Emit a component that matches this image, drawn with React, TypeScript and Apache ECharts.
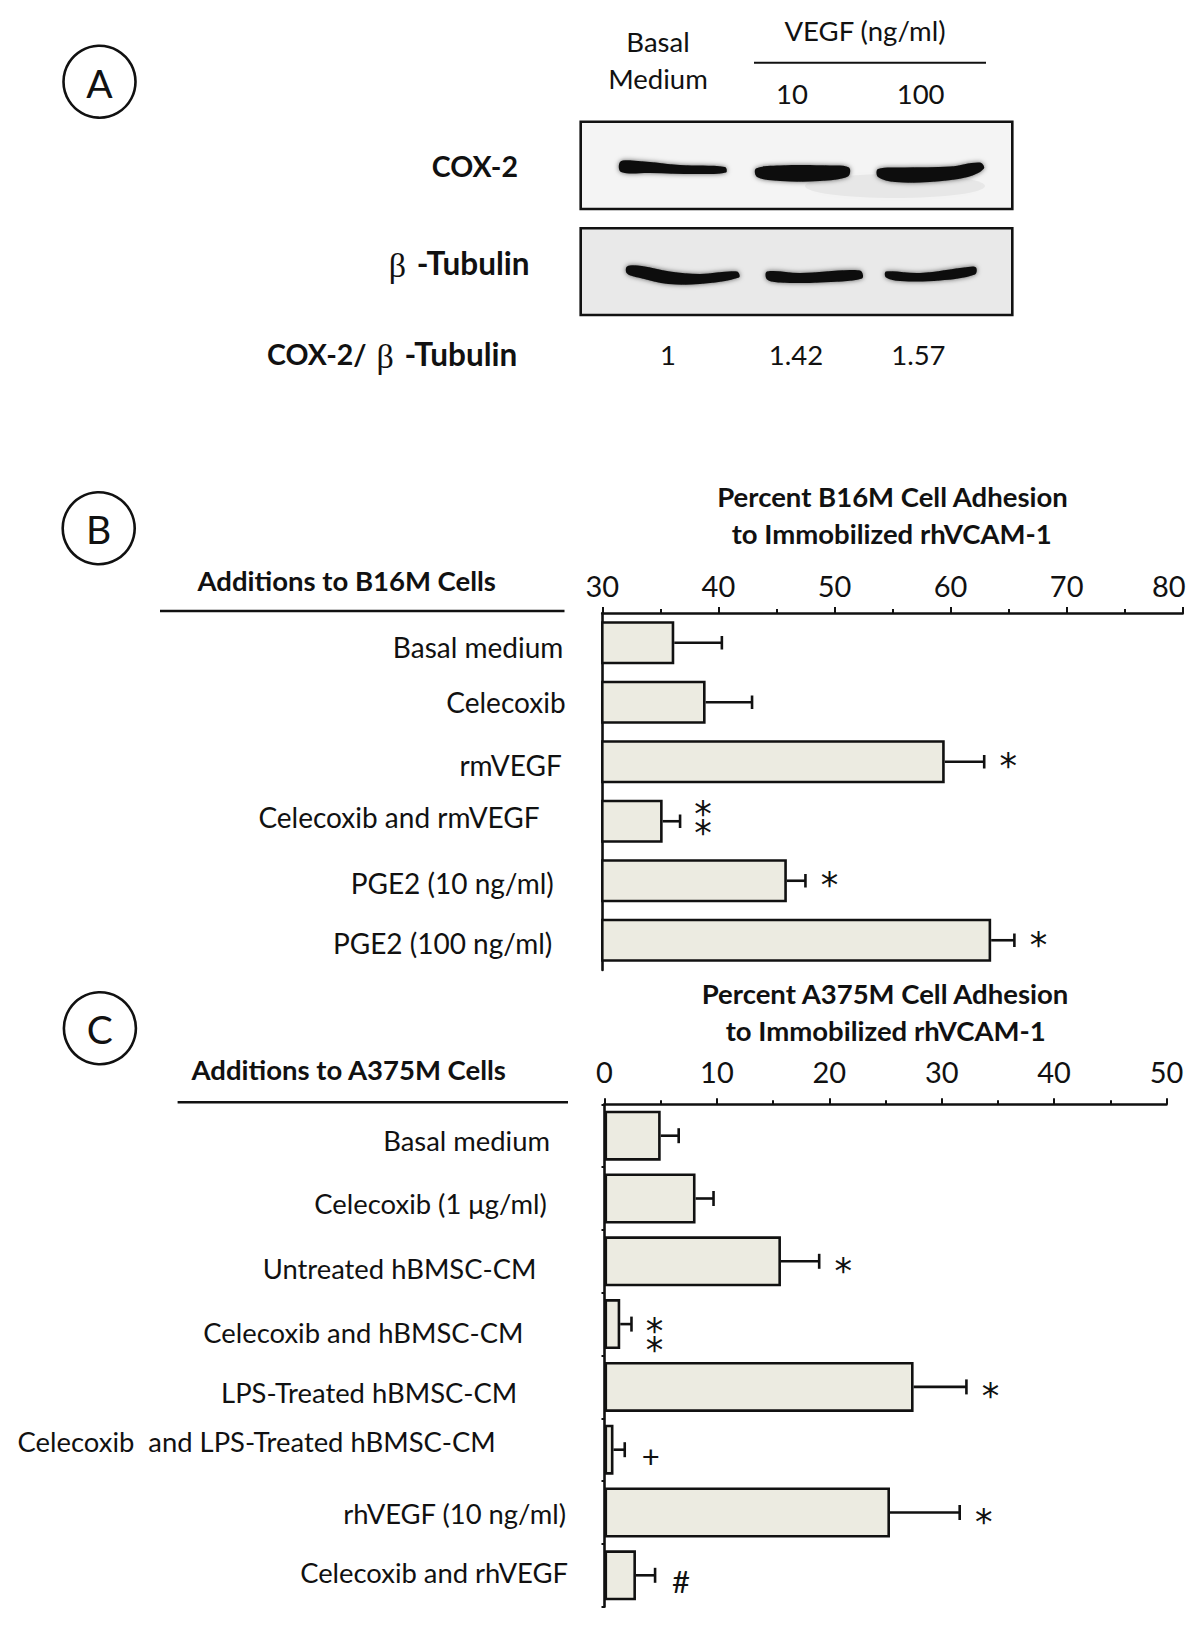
import React, { useEffect, useRef } from "react";
import * as echarts from "echarts";

const FONT = "Lato";
const MARK_FONT = "DejaVu Sans";
const INK = "#111111";
const BAR_FILL = "#ecebe1";

// ---------- Panel A (western blot) ----------
const blotBasalHeader = ["Basal", "Medium"];
const blotGroupHeader = "VEGF (ng/ml)";
const blotLaneHeaders = ["10", "100"];
const blotRowLabels = ["COX-2", "β -Tubulin", "COX-2/ β -Tubulin"];
const blotRatios = ["1", "1.42", "1.57"];

// ---------- Panel B ----------
const categoriesB = [
  "Basal medium",
  "Celecoxib",
  "rmVEGF",
  "Celecoxib and rmVEGF",
  "PGE2 (10 ng/ml)",
  "PGE2 (100 ng/ml)",
];
const meansB = [36.2, 38.9, 59.5, 35.2, 45.9, 63.5];
const errorsB = [4.1, 4.0, 3.4, 1.5, 1.6, 2.0];
const marksB = ["", "", "*", "**", "*", "*"];
const axisB = { min: 30, max: 80, step: 10 };
const titleB = ["Percent B16M Cell Adhesion", "to Immobilized rhVCAM-1"];
const headerB = "Additions to B16M Cells";

// ---------- Panel C ----------
const categoriesC = [
  "Basal medium",
  "Celecoxib (1 μg/ml)",
  "Untreated hBMSC-CM",
  "Celecoxib and hBMSC-CM",
  "LPS-Treated hBMSC-CM",
  "Celecoxib  and LPS-Treated hBMSC-CM",
  "rhVEGF (10 ng/ml)",
  "Celecoxib and rhVEGF",
];
const meansC = [5.0, 8.1, 15.7, 1.4, 27.5, 0.8, 25.4, 2.8];
const errorsC = [1.6, 1.6, 3.4, 1.0, 4.7, 1.0, 6.2, 1.7];
const marksC = ["", "", "*", "**", "*", "+", "*", "#"];
const axisC = { min: 0, max: 50, step: 10 };
const titleC = ["Percent A375M Cell Adhesion", "to Immobilized rhVCAM-1"];
const headerC = "Additions to A375M Cells";

// ---------- layout (styling only) ----------
const labelPadRightB = [3, 0.7, 4.5, 26.7, 12.5, 14];
const labelDyB = [4, 0, 3.3, -4, 2, 3];
const labelPadRightC = [18.5, 21.7, 32.1, 45, 51.3, 72.8, 2.5, 0.5];
const labelDyC = [4.3, 4.8, 7, 8.6, 5.4, -8, 0.8, -2.6];
const markOffsetB = { single: 4.3, pair: 2, other: 5 };
const markOffsetC = { single: 9.5, pair: 16, other: 6 };

function makeRich(pads: number[], dys: number[], size: number) {
  const rich: any = {};
  pads.forEach((p, i) => {
    const dy = dys[i];
    rich["r" + i] = {
      fontSize: size,
      fontFamily: FONT,
      color: INK,
      padding: [dy > 0 ? 2 * dy : 0, p, dy < 0 ? -2 * dy : 0, 0],
    };
  });
  return rich;
}

function makeErrorSeries(
  xIdx: number,
  means: number[],
  errs: number[],
  marks: string[],
  cap: number,
  off: { single: number; pair: number; other: number }
) {
  return {
    type: "custom",
    xAxisIndex: xIdx,
    yAxisIndex: xIdx,
    z: 5,
    encode: { x: 1, y: 0 },
    data: means.map((m, i) => [i, m, errs[i]]),
    renderItem: (params: any, api: any) => {
      const i = api.value(0);
      const m = api.value(1);
      const e = api.value(2);
      const p0 = api.coord([m, i]);
      const p1 = api.coord([m + e, i]);
      const ls = { stroke: INK, lineWidth: 2.6 };
      const children: any[] = [
        { type: "line", shape: { x1: p0[0], y1: p0[1], x2: p1[0], y2: p1[1] }, style: ls },
        { type: "line", shape: { x1: p1[0], y1: p1[1] - cap / 2, x2: p1[0], y2: p1[1] + cap / 2 }, style: ls },
      ];
      const mk = marks[i];
      const tx = p1[0] + 24;
      const star = {
        fontSize: 35,
        fontFamily: MARK_FONT,
        fill: INK,
        align: "center",
        verticalAlign: "middle",
      };
      if (mk === "**") {
        children.push({
          type: "text",
          x: tx - 1,
          y: p1[1] + off.pair,
          style: { ...star, text: "*\n*", lineHeight: 19 },
        });
      } else if (mk === "*") {
        children.push({ type: "text", x: tx, y: p1[1] + off.single, style: { ...star, text: "*" } });
      } else if (mk) {
        children.push({
          type: "text",
          x: tx + 2,
          y: p1[1] + off.other,
          style: { ...star, fontFamily: FONT, fontSize: 31, text: mk },
        });
      }
      return { type: "group", children };
    },
  };
}

function valueAxis(
  grid: number,
  ax: { min: number; max: number; step: number },
  margin: number,
  shiftLastLabel: boolean
) {
  return {
    type: "value",
    gridIndex: grid,
    position: "top",
    min: ax.min,
    max: ax.max,
    interval: ax.step,
    axisLine: { show: true, lineStyle: { color: INK, width: 2.6 } },
    axisTick: { show: true, length: 6, lineStyle: { color: INK, width: 2 } },
    minorTick: { show: true, splitNumber: 2, length: 4, lineStyle: { color: INK, width: 2 } },
    splitLine: { show: false },
    minorSplitLine: { show: false },
    axisLabel: {
      fontSize: 29,
      fontFamily: FONT,
      color: INK,
      margin,
      formatter: (v: number) => (shiftLastLabel && v === ax.max ? `{e|${v}}` : `{n|${v}}`),
      rich: {
        n: { fontSize: 29, fontFamily: FONT, color: INK },
        e: { fontSize: 29, fontFamily: FONT, color: INK, padding: [0, 28, 0, 0] },
      },
    },
  };
}

function catAxis(grid: number, cats: string[], rich: any, ticks: boolean, size: number) {
  return {
    type: "category",
    gridIndex: grid,
    data: cats,
    inverse: true,
    axisLine: { show: true, lineStyle: { color: INK, width: 2.6 } },
    axisTick: { show: ticks, length: 3, lineStyle: { color: INK, width: 2 } },
    splitLine: { show: false },
    axisLabel: {
      margin: 36,
      fontSize: size,
      fontFamily: FONT,
      color: INK,
      formatter: (v: string, i: number) => `{r${i}|${v}}`,
      rich,
    },
  };
}

function txt(x: number, y: number, text: string, size: number, bold = false, align = "center") {
  return {
    type: "text",
    x,
    y,
    style: {
      text,
      fontSize: size,
      fontFamily: FONT,
      fontWeight: bold ? "bold" : "normal",
      fill: INK,
      align,
      verticalAlign: "middle",
    },
  };
}

// bold label where the Greek beta is set in a serif symbol face
function betaLabel(xRight: number, y: number, label: string) {
  const idx = label.indexOf("β");
  const before = label.slice(0, idx);
  const after = label.slice(idx + 1);
  const text = (before ? `{b|${before}}` : "") + "{g|β}" + `{t|${after}}`;
  return {
    type: "text",
    x: xRight,
    y,
    style: {
      text,
      align: "right",
      verticalAlign: "middle",
      fill: INK,
      rich: {
        b: { fontSize: 28.5, fontFamily: FONT, fontWeight: "bold", fill: INK },
        t: { fontSize: 31.5, fontFamily: FONT, fontWeight: "bold", fill: INK },
        g: { fontSize: 34, fontFamily: "Liberation Serif", fontWeight: "normal", fill: INK, padding: [5, 3, 0, 3] },
      },
    },
  };
}

function hline(x1: number, x2: number, y: number, w = 2.5) {
  return { type: "line", shape: { x1, y1: y, x2, y2: y }, style: { stroke: INK, lineWidth: w } };
}

function circleLetter(cx: number, cy: number, letter: string) {
  return [
    { type: "circle", shape: { cx, cy, r: 36 }, style: { fill: "none", stroke: INK, lineWidth: 2.6 } },
    txt(cx, cy + 1, letter, 39),
  ];
}

function band(points: number[][], blur = 5) {
  return {
    type: "polygon",
    shape: { points, smooth: 0.35 },
    style: { fill: "#0a0a0a", shadowBlur: blur, shadowColor: "rgba(0,0,0,0.6)" },
    z: 3,
  };
}

function buildGraphic() {
  const g: any[] = [];
  g.push(...circleLetter(99.5, 81.7, "A"));
  g.push(...circleLetter(98.7, 528.3, "B"));
  g.push(...circleLetter(99.9, 1028.3, "C"));

  // Panel A headers
  g.push(txt(658, 41.7, blotBasalHeader[0], 27.5));
  g.push(txt(658, 78, blotBasalHeader[1], 27.5));
  g.push(txt(865, 30, blotGroupHeader, 27.5));
  g.push(hline(754, 986, 62.7, 2));
  g.push(txt(792, 93.3, blotLaneHeaders[0], 27.5));
  g.push(txt(920.6, 93.3, blotLaneHeaders[1], 27.5));

  // blot boxes
  g.push({
    type: "rect",
    shape: { x: 580.7, y: 121.7, width: 431.6, height: 87.3 },
    style: { fill: "#f4f4f4", stroke: INK, lineWidth: 2.6 },
    z: 1,
  });
  g.push({
    type: "ellipse",
    shape: { cx: 895, cy: 186, rx: 90, ry: 12 },
    style: { fill: "rgba(0,0,0,0.05)", shadowBlur: 14, shadowColor: "rgba(0,0,0,0.10)" },
    z: 2,
  });
  g.push({
    type: "rect",
    shape: { x: 580.7, y: 228.3, width: 431.6, height: 86.7 },
    style: { fill: "#e9e9e9", stroke: INK, lineWidth: 2.6 },
    z: 1,
  });
  // COX-2 bands
  g.push(band([[620, 162], [632, 160.5], [680, 165], [725, 167], [726, 172.5], [700, 174], [650, 173], [621, 172]]));
  g.push(band([[756, 168.5], [780, 165.5], [830, 165.5], [849, 167.5], [848, 176.5], [820, 181], [780, 181], [757, 177]]));
  g.push(band([[878, 169], [905, 167.5], [950, 166.5], [980, 162.5], [984, 168.5], [968, 177], [930, 182], [895, 182], [878, 177]]));
  // beta-tubulin bands
  g.push(band([[627, 266.5], [642, 266], [670, 271.5], [700, 274], [737, 271.5], [739, 277.5], [700, 284], [668, 284], [640, 278], [627, 273.5]]));
  g.push(band([[767, 271.5], [800, 273], [860, 270.5], [862, 278.5], [820, 282.5], [780, 282.5], [767, 279.5]]));
  g.push(band([[886, 271.5], [920, 273], [968, 267], [976, 267.5], [975, 274.5], [940, 280.5], [900, 281], [886, 277.5]]));

  g.push(txt(518, 165.7, blotRowLabels[0], 28.5, true, "right"));
  g.push(betaLabel(529.6, 263.3, blotRowLabels[1]));
  g.push(betaLabel(517.3, 354, blotRowLabels[2]));
  g.push(txt(668, 354, blotRatios[0], 27.5));
  g.push(txt(796, 354, blotRatios[1], 27.5));
  g.push(txt(918.4, 354, blotRatios[2], 27.5));

  // Panel B titles
  g.push(txt(892.5, 496.7, titleB[0], 27.5, true));
  g.push(txt(891.7, 533.3, titleB[1], 27.5, true));
  g.push(txt(346.7, 580, headerB, 27.5, true));
  g.push(hline(160, 564.5, 611));

  // Panel C titles
  g.push(txt(885, 993.3, titleC[0], 27.5, true));
  g.push(txt(885.7, 1030, titleC[1], 27.5, true));
  g.push(txt(348.7, 1069.3, headerC, 27.5, true));
  g.push(hline(177.6, 568, 1102.3));
  return g;
}

export default function App() {
  const ref = useRef<HTMLDivElement>(null);
  useEffect(() => {
    if (!ref.current) return;
    const chart = echarts.init(ref.current, undefined, { renderer: "svg" });
    const option: any = {
      animation: false,
      backgroundColor: "#ffffff",
      textStyle: { fontFamily: FONT },
      grid: [
        { left: 602.3, top: 613, width: 580.4, height: 357, containLabel: false, outerBoundsMode: "none" },
        { left: 604.5, top: 1104.3, width: 562, height: 502.4, containLabel: false, outerBoundsMode: "none" },
      ],
      xAxis: [valueAxis(0, axisB, 13.5, true), valueAxis(1, axisC, 18, false)],
      yAxis: [
        catAxis(0, categoriesB, makeRich(labelPadRightB, labelDyB, 28), false, 28),
        catAxis(1, categoriesC, makeRich(labelPadRightC, labelDyC, 27.4), true, 27.4),
      ],
      series: [
        {
          type: "bar",
          xAxisIndex: 0,
          yAxisIndex: 0,
          data: meansB,
          barWidth: 43,
          itemStyle: { color: BAR_FILL, borderColor: INK, borderWidth: 2.6 },
        },
        makeErrorSeries(0, meansB, errorsB, marksB, 13.5, markOffsetB),
        {
          type: "bar",
          xAxisIndex: 1,
          yAxisIndex: 1,
          data: meansC,
          barWidth: 50,
          itemStyle: { color: BAR_FILL, borderColor: INK, borderWidth: 2.6 },
        },
        makeErrorSeries(1, meansC, errorsC, marksC, 15, markOffsetC),
      ],
      graphic: buildGraphic(),
    };
    chart.setOption(option);
    return () => chart.dispose();
  }, []);
  return (
    <div
      ref={ref}
      style={{ position: "absolute", left: 0, top: 0, width: 1200, height: 1628, background: "#fff" }}
    />
  );
}
